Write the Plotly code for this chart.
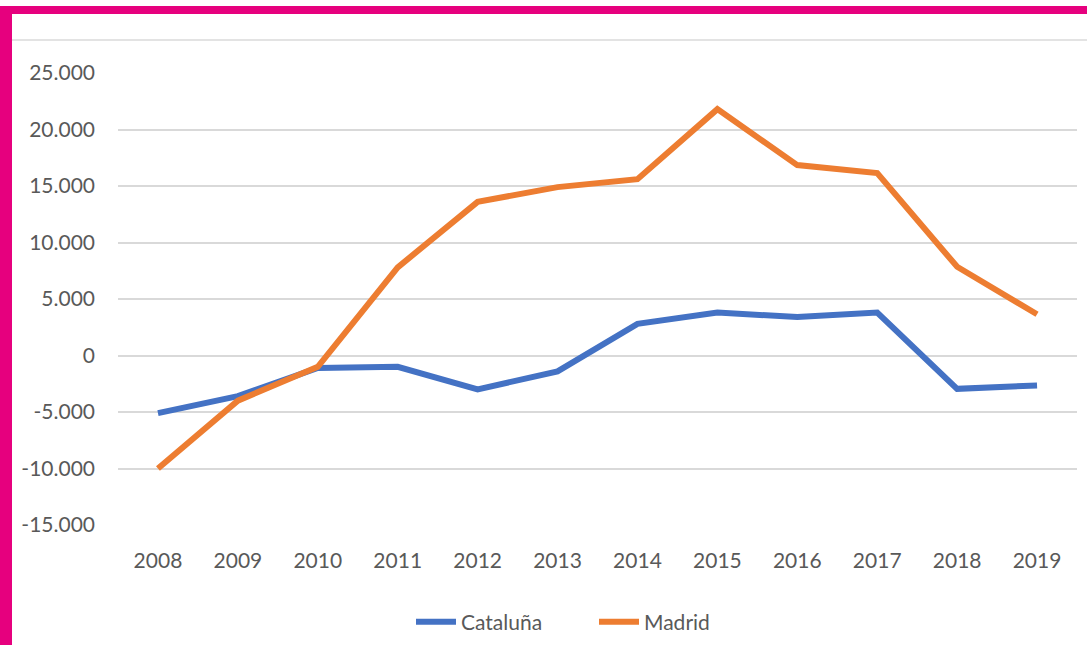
import plotly.graph_objects as go

years = ["2008", "2009", "2010", "2011", "2012", "2013", "2014", "2015", "2016", "2017", "2018", "2019"]
cataluna = [-5100, -3600, -1100, -1000, -3000, -1400, 2800, 3800, 3400, 3800, -2950, -2650]
madrid = [-10000, -4000, -1000, 7800, 13600, 14900, 15600, 21800, 16850, 16150, 7850, 3650]
y_tick_vals = [-15000, -10000, -5000, 0, 5000, 10000, 15000, 20000, 25000]
y_tick_labels = ["-15.000", "-10.000", "-5.000", "0", "5.000", "10.000", "15.000", "20.000", "25.000"]

W, H = 1087, 645
L, R, T, B = 118, 1077, 73, 525
pw, ph = R - L, B - T

def px(x):
    return (x - L) / pw

def py(y):
    return (B - y) / ph

font = dict(family="Lato, 'Open Sans', sans-serif", size=21, color="#595959")

fig = go.Figure()
fig.add_trace(go.Scatter(x=years, y=cataluna, mode="lines", name="Cataluña",
                         line=dict(color="#4472C4", width=6)))
fig.add_trace(go.Scatter(x=years, y=madrid, mode="lines", name="Madrid",
                         line=dict(color="#ED7D31", width=6)))

magenta = "#E6007E"
shapes = [
    dict(type="rect", xref="paper", yref="paper", x0=px(0), x1=px(W + 5), y0=py(14), y1=py(6),
         fillcolor=magenta, line=dict(width=0), layer="above"),
    dict(type="rect", xref="paper", yref="paper", x0=px(0), x1=px(12), y0=py(H + 5), y1=py(6),
         fillcolor=magenta, line=dict(width=0), layer="above"),
    dict(type="line", xref="paper", yref="paper", x0=px(12), x1=px(W + 5), y0=py(40), y1=py(40),
         line=dict(color="#e3e3e3", width=2), layer="below"),
]

fig.update_layout(
    width=W, height=H,
    margin=dict(l=L, r=W - R, t=T, b=H - B, autoexpand=False),
    paper_bgcolor="white", plot_bgcolor="white",
    font=font,
    showlegend=True,
    legend=dict(orientation="h", x=px(594), xanchor="center", y=py(622), yanchor="middle",
                font=font, itemwidth=40, entrywidth=128, entrywidthmode="pixels",
                tracegroupgap=0),
    shapes=shapes,
    xaxis=dict(type="category", range=[-0.5, 11.5], showgrid=False, zeroline=False,
               showline=False, ticks="", ticklabelstandoff=21, tickfont=font),
    yaxis=dict(range=[-15000, 25000], tickvals=y_tick_vals, ticktext=y_tick_labels,
               showgrid=True, gridcolor="#d9d9d9", gridwidth=1.5, zeroline=False,
               showline=False, ticks="", ticklabelstandoff=22, tickfont=font),
)

fig.write_html("out.html", config={"displayModeBar": False},
               post_script="document.body.style.margin='0';document.body.style.overflow='hidden';")
